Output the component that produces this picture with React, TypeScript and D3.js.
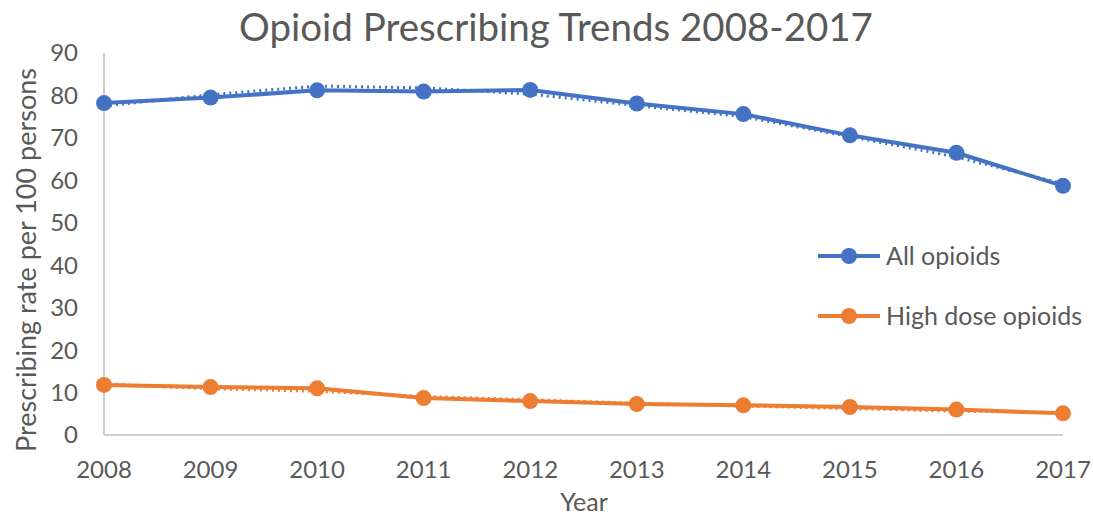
import React from "react";
import * as d3 from "d3";

const years = ["2008", "2009", "2010", "2011", "2012", "2013", "2014", "2015", "2016", "2017"];
const allOpioids = [78.2, 79.5, 81.2, 80.9, 81.3, 78.1, 75.6, 70.6, 66.5, 58.7];
const highDose = [11.8, 11.3, 11.0, 8.7, 8.0, 7.3, 7.0, 6.6, 6.0, 5.1];
const allOpioidsDotted = [77.5, 80.2, 82.2, 81.8, 80.3, 77.6, 75.0, 70.3, 65.5, 59.2];
const highDoseDotted = [12.0, 10.9, 10.3, 9.1, 8.3, 7.5, 6.8, 6.2, 5.6, 5.3];
const yTicks = [0, 10, 20, 30, 40, 50, 60, 70, 80, 90];
const seriesNames = ["All opioids", "High dose opioids"];

const W = 1093;
const H = 518;
const left = 104;
const right = 1063;
const top = 53;
const bottom = 435;
const BLUE = "#4472C4";
const ORANGE = "#ED7D31";
const TEXT = "#595959";
const FONT = "Lato, 'Open Sans', sans-serif";

export default function App() {
  const x = d3.scalePoint<string>().domain(years).range([left, right]);
  const y = d3.scaleLinear().domain([0, 90]).range([bottom, top]);
  const line = d3
    .line<number>()
    .x((_, i) => x(years[i]) as number)
    .y((d) => y(d));

  const series = [
    { name: seriesNames[0], values: allOpioids, dotted: allOpioidsDotted, color: BLUE },
    { name: seriesNames[1], values: highDose, dotted: highDoseDotted, color: ORANGE },
  ];

  return (
    <svg
      width={W}
      height={H}
      style={{ position: "absolute", left: 0, top: 0, background: "#fff" }}
      fontFamily={FONT}
    >
      <text x={556} y={41} textAnchor="middle" fontSize={38.5} fill={TEXT}>
        Opioid Prescribing Trends 2008-2017
      </text>

      {/* axes */}
      <line x1={left} x2={left} y1={top} y2={bottom} stroke="#BFBFBF" strokeWidth={1.5} />
      <line x1={left} x2={right} y1={bottom} y2={bottom} stroke="#BFBFBF" strokeWidth={1.5} />

      {yTicks.map((t) => (
        <text key={t} x={78} y={y(t)} dy="0.35em" textAnchor="end" fontSize={24} fill={TEXT}>
          {t}
        </text>
      ))}
      {years.map((yr) => (
        <text key={yr} x={x(yr) as number} y={470} dy="0.35em" textAnchor="middle" fontSize={24} fill={TEXT}>
          {yr}
        </text>
      ))}

      <text
        transform={`translate(27, 260) rotate(-90)`}
        textAnchor="middle"
        dy="0.35em"
        fontSize={27}
        fill={TEXT}
      >
        Prescribing rate per 100 persons
      </text>
      <text x={584} y={502} dy="0.35em" textAnchor="middle" fontSize={25} fill={TEXT}>
        Year
      </text>

      {series.map((s) => (
        <g key={s.name}>
          <path d={line(s.dotted) || ""} fill="none" stroke={s.color} strokeWidth={3} strokeDasharray="2 4" />
          <path d={line(s.values) || ""} fill="none" stroke={s.color} strokeWidth={4} strokeLinejoin="round" />
          {s.values.map((v, i) => (
            <circle key={i} cx={x(years[i]) as number} cy={y(v)} r={8} fill={s.color} />
          ))}
        </g>
      ))}

      {series.map((s, i) => {
        const ly = 256 + i * 60;
        return (
          <g key={s.name}>
            <line x1={818} x2={880} y1={ly} y2={ly} stroke={s.color} strokeWidth={4} />
            <circle cx={849} cy={ly} r={8} fill={s.color} />
            <text x={886} y={ly} dy="0.35em" fontSize={25} fill={TEXT}>
              {s.name}
            </text>
          </g>
        );
      })}
    </svg>
  );
}
